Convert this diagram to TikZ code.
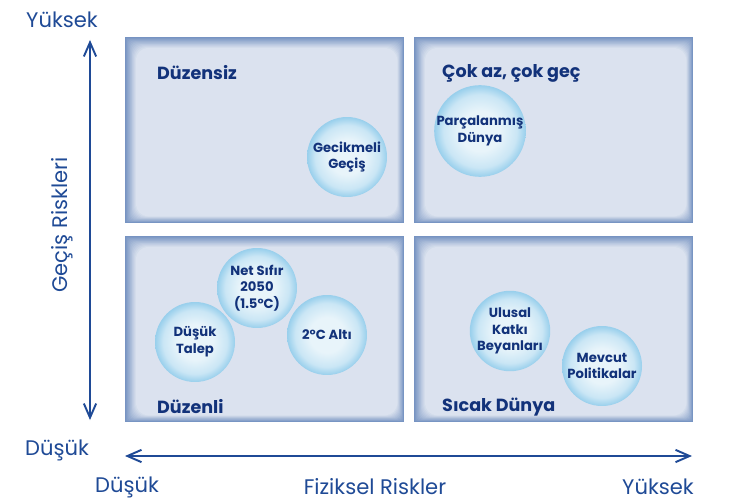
\documentclass[tikz,border=0pt]{standalone}
\usepackage{fontspec}
\setmainfont{Poppins}
\usetikzlibrary{arrows.meta}

\definecolor{axisblue}{HTML}{1F4A96}
\definecolor{textblue}{HTML}{12327A}
\definecolor{panelfill}{HTML}{E6EBF4}
\definecolor{paneledge}{HTML}{5A7DB5}
\definecolor{bubbleedge}{HTML}{98CFEC}
\definecolor{bubblemid}{HTML}{CAE6F5}
\definecolor{bubblecore}{HTML}{E8F4FA}

\pgfdeclareradialshading{bubbleshade}{\pgfpoint{0bp}{0bp}}{%
  color(0bp)=(bubblecore); color(11bp)=(bubblecore); color(20bp)=(bubblemid); color(25bp)=(bubbleedge); color(50bp)=(bubbleedge)}

\begin{document}
\begin{tikzpicture}[x=0.02cm,y=-0.02cm]
        \tikzset{axis line/.style={draw=axisblue, line width=1.1pt},
                 axis label/.style={text=axisblue, font=\fontsize{12}{14}\selectfont},
                 panel title/.style={text=textblue, anchor=west, font=\fontsize{10}{12}\selectfont\bfseries},
                 bubble/.style={circle, minimum size=1.6cm, inner sep=0pt, shading=bubbleshade,
                                text=textblue, align=center, font=\fontsize{7.5}{9.5}\selectfont\bfseries}}

        \useasboundingbox (0,0) rectangle (750,500);

        % quadrant panels with soft edges
        \foreach \px/\py in {125/37, 414/37, 125/236, 414/236} {
            \foreach \k in {0,...,12} {
                \pgfmathsetmacro\mixval{int(80-6*\k)}
                \fill[paneledge!\mixval!panelfill, rounded corners=0.6*\k pt]
                    (\px+0.9*\k,\py+0.9*\k) rectangle (\px+279-0.55*\k,\py+186-0.55*\k);
            }
        }

        % axes
        \coordinate (vtop) at (90,40);
        \coordinate (vbot) at (90,420);
        \coordinate (hleft) at (125,456);
        \coordinate (hright) at (692,456);
        \draw[axis line, {Straight Barb[length=8pt,width=7pt]}-{Straight Barb[length=8pt,width=7pt]}] (vbot) -- (vtop);
        \draw[axis line, {Straight Barb[length=8pt,width=7pt]}-{Straight Barb[length=8pt,width=7pt]}] (hleft) -- (hright);

        \node[axis label] (ytop) at (62,20) {Yüksek};
        \node[axis label, rotate=90] (yname) at (62,225) {Geçiş Riskleri};
        \node[axis label] (ybot) at (57,450) {Düşük};
        \node[axis label] (xleft) at (127,487) {Düşük};
        \node[axis label] (xname) at (375,487) {Fiziksel Riskler};
        \node[axis label] (xright) at (658,487) {Yüksek};

        % quadrant titles
        \node[panel title] (disorderly) at (151,73) {Düzensiz};
        \node[panel title] (toolittle) at (436,73) {Çok az, çok geç};
        \node[panel title] (orderly) at (151,407) {Düzenli};
        \node[panel title] (hothouse) at (436,407) {Sıcak Dünya};

        % scenarios
        \node[bubble] (delayed) at (347,157) {Gecikmeli\\Geçiş};
        \node[bubble] (fragmented) at (480,131) {Parçalanmış\\Dünya};
        \node[bubble] (netzero) at (257,288) {Net Sıfır\\2050\\(1.5°C)};
        \node[bubble] (lowdemand) at (195,342) {Düşük\\Talep};
        \node[bubble] (belowtwo) at (327,335) {2°C Altı};
        \node[bubble] (ndcs) at (510,331) {Ulusal\\Katkı\\Beyanları};
        \node[bubble] (current) at (602,366) {Mevcut\\Politikalar};
    \end{tikzpicture}
\end{document}
